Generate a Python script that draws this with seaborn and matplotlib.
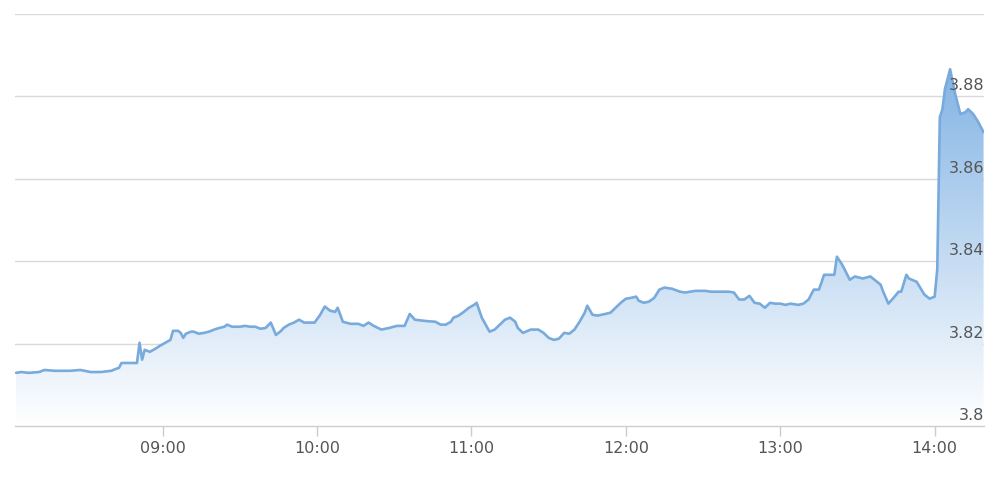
import numpy as np
import pandas as pd
import matplotlib
matplotlib.use("Agg")
import matplotlib.pyplot as plt
import matplotlib.dates as mdates
import matplotlib.transforms as mtransforms
from matplotlib.colors import LinearSegmentedColormap
import seaborn as sns

# intraday quotes
times = ["08:03", "08:05", "08:08", "08:12", "08:14", "08:18", "08:24", "08:28", "08:32", "08:36",
         "08:40", "08:42", "08:43", "08:44", "08:50", "08:51", "08:52", "08:53", "08:55", "08:57", "08:59",
         "09:01", "09:03", "09:04", "09:06", "09:07", "09:08", "09:09", "09:11", "09:12", "09:14",
         "09:16", "09:18", "09:20", "09:22", "09:24", "09:25", "09:27", "09:30", "09:32", "09:34",
         "09:36", "09:38", "09:40", "09:42", "09:44", "09:46", "09:47", "09:49", "09:51", "09:53",
         "09:55", "09:57", "09:59",
         "10:01", "10:03", "10:05", "10:07", "10:08", "10:10", "10:13", "10:16", "10:18", "10:20",
         "10:22", "10:25", "10:28", "10:31", "10:34", "10:36", "10:38", "10:42", "10:46", "10:48",
         "10:50", "10:52", "10:53", "10:55", "10:57", "10:59",
         "11:01", "11:02", "11:04", "11:07", "11:09", "11:11", "11:13", "11:15", "11:17", "11:18",
         "11:20", "11:23", "11:26", "11:28", "11:30", "11:32", "11:34", "11:36", "11:38", "11:40",
         "11:42", "11:44", "11:45", "11:47", "11:49", "11:52", "11:54", "11:56", "11:58",
         "12:00", "12:02", "12:04", "12:05", "12:07", "12:09", "12:11", "12:13", "12:15", "12:18",
         "12:21", "12:23", "12:25", "12:27", "12:29", "12:31", "12:33", "12:36", "12:40", "12:42",
         "12:44", "12:46", "12:48", "12:50", "12:52", "12:54", "12:56", "12:58",
         "13:00", "13:02", "13:04", "13:07", "13:09", "13:11", "13:13", "13:15", "13:16", "13:17",
         "13:21", "13:22", "13:24", "13:25", "13:27", "13:29", "13:32", "13:35", "13:37", "13:39",
         "13:40", "13:42", "13:44", "13:46", "13:47", "13:49", "13:50", "13:53", "13:56", "13:58",
         "14:00", "14:01", "14:02", "14:03", "14:04", "14:06", "14:08", "14:10", "14:12", "14:13",
         "14:15", "14:17", "14:19"]
prices = [3.8129, 3.8131, 3.8129, 3.8131, 3.8136, 3.8134, 3.8134, 3.8136, 3.8131, 3.8131,
          3.8134, 3.8139, 3.8141, 3.8153, 3.8153, 3.8202, 3.8161, 3.8185, 3.8180, 3.8187, 3.8195,
          3.8202, 3.8209, 3.8231, 3.8231, 3.8226, 3.8214, 3.8224, 3.8229, 3.8229, 3.8224,
          3.8226, 3.8229, 3.8234, 3.8238, 3.8241, 3.8246, 3.8241, 3.8241, 3.8243, 3.8241,
          3.8241, 3.8236, 3.8238, 3.8251, 3.8221, 3.8231, 3.8238, 3.8246, 3.8251, 3.8258,
          3.8251, 3.8251, 3.8251,
          3.8268, 3.8290, 3.8280, 3.8277, 3.8287, 3.8253, 3.8248, 3.8248, 3.8243, 3.8251,
          3.8243, 3.8234, 3.8238, 3.8243, 3.8243, 3.8272, 3.8258, 3.8255, 3.8253, 3.8246,
          3.8246, 3.8253, 3.8263, 3.8268, 3.8277, 3.8287,
          3.8294, 3.8299, 3.8263, 3.8229, 3.8234, 3.8246, 3.8258, 3.8263, 3.8253, 3.8238,
          3.8226, 3.8234, 3.8234, 3.8226, 3.8214, 3.8209, 3.8212, 3.8226, 3.8224, 3.8234,
          3.8253, 3.8275, 3.8292, 3.8270, 3.8268, 3.8272, 3.8275, 3.8287, 3.8299,
          3.8309, 3.8311, 3.8314, 3.8304, 3.8299, 3.8302, 3.8311, 3.8331, 3.8336, 3.8333,
          3.8326, 3.8324, 3.8326, 3.8328, 3.8328, 3.8328, 3.8326, 3.8326, 3.8326, 3.8324,
          3.8307, 3.8307, 3.8316, 3.8299, 3.8297, 3.8287, 3.8299, 3.8297,
          3.8297, 3.8294, 3.8297, 3.8294, 3.8297, 3.8307, 3.8331, 3.8331, 3.8348, 3.8367,
          3.8367, 3.8411, 3.8392, 3.8380, 3.8355, 3.8363, 3.8358, 3.8363, 3.8353, 3.8343,
          3.8326, 3.8297, 3.8311, 3.8326, 3.8326, 3.8367, 3.8358, 3.8350, 3.8319, 3.8309,
          3.8314, 3.8380, 3.8749, 3.8769, 3.8818, 3.8866, 3.8805, 3.8757, 3.8762, 3.8769,
          3.8757, 3.8737, 3.8713]

grid_values = [3.80, 3.82, 3.84, 3.86, 3.88, 3.90]
grid_labels = ["3.8", "3.82", "3.84", "3.86", "3.88"]

day = "2024-01-02 "
df = pd.DataFrame({"time": pd.to_datetime([day + t for t in times]), "price": prices})

sns.set_theme(style="white")
plt.rcParams['font.family'] = ['DejaVu Sans']

fig = plt.figure(figsize=(10, 4.93), dpi=100)
ax = fig.add_axes([0.015, 0.1359, 0.969, 0.8357])

x0 = pd.Timestamp(day + "08:02:36")
x1 = pd.Timestamp(day + "14:19:10")

# gradient area under the line
fill = ax.fill_between(df["time"], df["price"], 3.80, facecolor="none", edgecolor="none")
cmap = LinearSegmentedColormap.from_list("fade", ["#ffffff", "#84b4e5"])
grad = np.linspace(0, 1, 256).reshape(-1, 1)
img = ax.imshow(grad, cmap=cmap, origin="lower", aspect="auto", zorder=1,
                extent=[mdates.date2num(x0), mdates.date2num(x1), 3.80, max(prices)])
img.set_clip_path(fill.get_paths()[0], transform=ax.transData)

sns.lineplot(data=df, x="time", y="price", ax=ax, color="#78aadc", linewidth=1.9, zorder=3)

ax.set_xlim(x0, x1)
ax.set_ylim(3.80, 3.90)
ax.set_xlabel("")
ax.set_ylabel("")

ax.set_yticks(grid_values)
ax.yaxis.grid(True, color="#d9d9d9", linewidth=1)
ax.tick_params(axis="y", left=False, labelleft=False)
ax.set_axisbelow(True)

off = mtransforms.offset_copy(ax.get_yaxis_transform(), fig=fig, x=0, y=3, units="dots")
for v, lab in zip(grid_values, grid_labels):
    ax.text(1.0, v, lab, transform=off, ha="right", va="bottom",
            fontsize=11.5, color="#555555", zorder=4)

ax.xaxis.set_major_locator(mdates.HourLocator())
ax.xaxis.set_major_formatter(mdates.DateFormatter("%H:%M"))
ax.tick_params(axis="x", bottom=True, length=7, width=1, color="#cccccc",
               labelsize=11.5, labelcolor="#555555", pad=4)

for s in ["top", "left", "right"]:
    ax.spines[s].set_visible(False)
ax.spines["bottom"].set_color("#cccccc")
ax.spines["bottom"].set_linewidth(1)

fig.savefig("out.png", dpi=100)
